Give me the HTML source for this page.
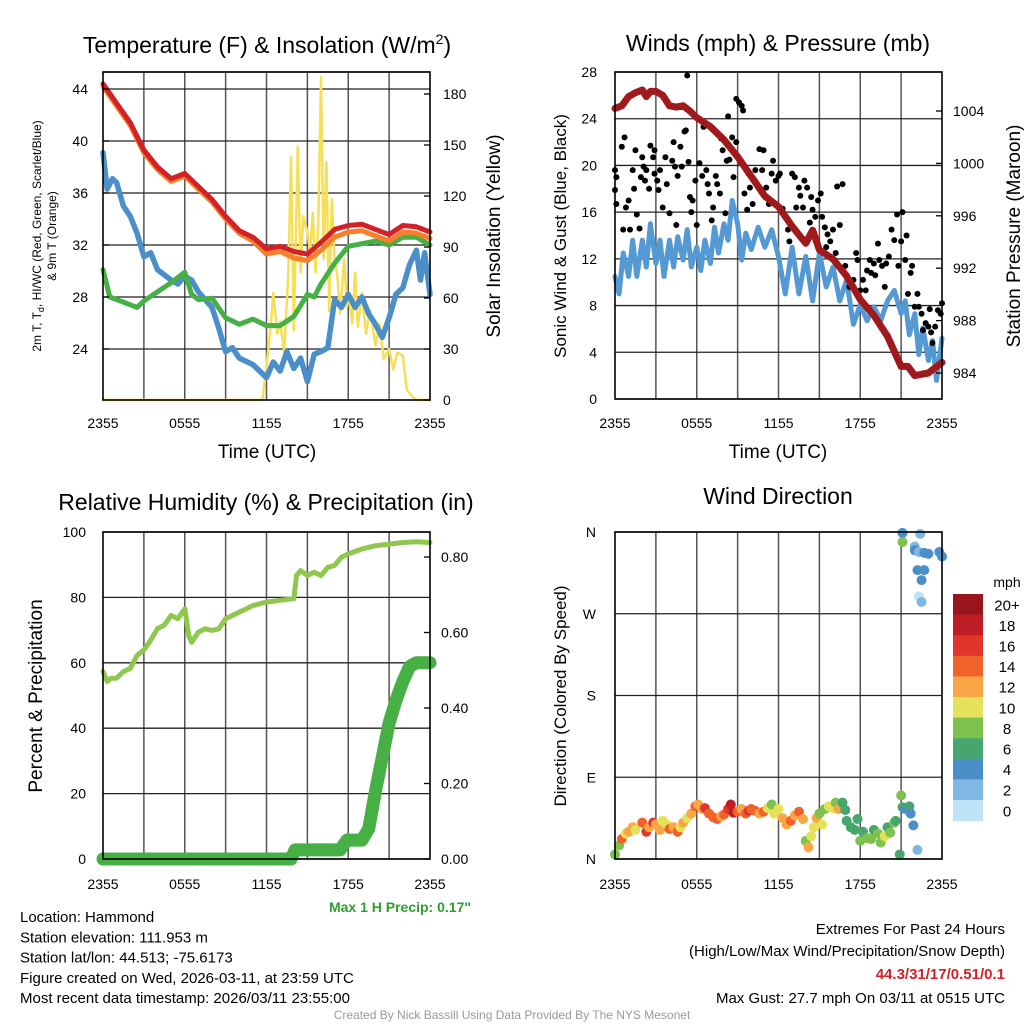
<!DOCTYPE html>
<html><head><meta charset="utf-8"><style>
html,body{margin:0;padding:0;background:#fff;}
svg{display:block;font-family:"Liberation Sans",Arial,sans-serif;}
</style></head><body>
<svg id="c" width="1024" height="1024" viewBox="0 0 1024 1024"></svg>
<script>
// ---------- DATA ----------
const xTickLabels=["2355","0555","1155","1755","2355"];
// Temperature panel
const tHours=[0,1,2,3,4,5,6,7,8,9,10,11,12,13,14,15,16,17,18,19,20,21,22,23,24];
const tempT=[44.4,42.9,41.4,39.3,38.0,37.1,37.5,36.5,35.5,34.2,33.1,32.6,31.7,31.9,31.5,31.3,32.2,33.2,33.5,33.6,33.2,32.8,33.5,33.4,33.0];
const tempWC=[44.2,42.7,41.2,39.1,37.8,36.9,37.3,36.3,35.3,34.0,32.9,32.3,31.3,31.5,31.0,30.8,31.6,32.6,33.0,33.1,32.7,32.3,33.0,32.9,32.5];
const tdHours=[0,0.5,1,2,2.5,3,4,5,6,6.5,7,8,9,10,11,12,13,14,15,15.5,16,17,18,19,20,21,22,23,24];
const tempTd=[30.1,28.0,27.8,27.4,27.2,27.7,28.4,29.1,29.9,28.2,27.8,27.9,26.4,25.9,26.3,25.8,25.8,26.5,28.2,28.0,29.0,30.6,31.9,32.1,32.3,32.0,32.6,32.6,32.0];
const blHours=[0,0.3,0.7,1,1.5,2,2.5,3,3.5,4,5,5.5,6,6.5,7,8,8.5,9,9.5,10,11,12,12.5,13,13.5,14,14.5,15,15.5,16,16.5,17,17.5,18,18.5,19,19.5,20,20.5,21,21.5,22,22.5,23,23.3,23.6,24];
const tempBlue=[39.1,36.3,37.1,36.8,35.0,34.2,32.9,31.1,31.4,30.1,29.3,29.0,29.6,29.3,28.4,27.2,25.6,23.8,24.1,23.3,22.8,21.8,23.0,22.3,23.8,22.5,23.3,21.5,23.6,23.8,24.1,27.8,27.2,28.2,27.2,28.0,26.7,25.9,24.9,26.4,28.2,28.7,30.5,31.6,29.3,31.4,28.2];
const solHours=[0,11.7,12,12.3,12.5,12.8,13,13.3,13.6,13.8,14,14.3,14.5,14.7,15,15.2,15.4,15.6,15.8,16,16.2,16.4,16.6,16.8,17,17.2,17.4,17.7,17.9,18,18.3,18.5,18.7,19,19.3,19.6,20,20.3,20.6,21,21.3,21.6,22,22.3,22.7,23,24];
const solar=[0,0,20,43,63,39,46,28,75,143,41,149,75,108,99,87,110,75,103,190,83,140,52,118,83,73,51,83,55,63,45,75,43,63,39,53,32,45,24,30,18,28,26,6,2,0,0];
const tempTicks=[24,28,32,36,40,44];
const solTicks=[0,30,60,90,120,150,180];
// Wind panel
const wHours=[0,0.3,0.6,1,1.3,1.6,2,2.3,2.6,3,3.3,3.6,4,4.3,4.6,5,5.3,5.6,6,6.3,6.6,7,7.3,7.6,8,8.3,8.6,9,9.3,9.6,10,10.5,11,11.5,12,12.5,13,13.5,14,14.5,15,15.5,16,16.5,17,17.5,18,18.5,19,19.5,20,20.5,21,21.3,21.6,22,22.3,22.6,23,23.3,23.6,24];
const windSpd=[10.5,9.0,12.5,10.5,13.6,10.5,13.6,11.3,15.0,11.6,13.6,10.5,13.6,11.3,13.9,11.9,14.5,11.3,13.0,11.0,13.6,11.6,14.7,12.5,15.0,13.6,17.0,15.0,11.9,14.2,12.8,14.7,13.0,14.5,12.2,9.0,13.0,9.0,12.2,8.4,12.5,9.6,11.3,8.4,10.2,6.4,8.1,6.7,7.9,6.7,8.4,9.3,7.3,8.4,5.5,7.3,3.8,6.1,3.3,5.0,1.6,5.2];
const pHours=[0,0.5,1,1.5,2,2.3,2.6,3,3.5,4,4.5,5,5.5,6,7,8,9,10,11,12,13,14,14.5,15,16,17,18,19,20,21,21.5,22,23,24];
const pressure=[1004.2,1004.4,1005.1,1005.4,1005.6,1005.1,1005.5,1005.5,1005.2,1004.4,1004.3,1004.4,1004.0,1003.5,1002.8,1001.8,1000.5,999.0,997.5,996.7,995.2,993.9,994.9,993.4,992.7,991.4,989.6,988.4,986.8,984.5,984.5,983.8,984.0,984.8];
const gustHours=[0,0.1,0,0.1,0.5,0.7,0.6,0.8,1.0,1.1,1.3,1.4,1.5,1.6,1.8,1.9,2.0,2.1,2.2,2.3,2.5,2.6,2.8,2.9,2.9,3.1,3.2,3.3,3.5,3.7,3.8,4.0,4.2,4.3,4.4,4.5,4.6,4.8,4.9,5.1,5.2,5.3,5.4,5.5,5.6,5.7,5.9,6.0,6.2,6.4,6.5,6.7,6.8,6.9,7.1,7.2,7.4,7.5,7.7,7.8,7.9,8.1,8.2,8.3,8.4,8.6,8.7,8.9,8.9,9.1,9.3,9.4,9.5,9.7,9.8,9.9,10.1,10.3,10.4,10.6,10.8,10.9,11.1,11.3,11.5,11.6,11.8,12.0,12.1,12.3,12.5,12.7,12.8,13.0,13.2,13.3,13.5,13.6,13.8,13.9,14.1,14.3,14.4,14.5,14.7,14.9,15.1,15.2,15.4,15.5,15.6,15.8,16.0,16.2,16.3,16.5,16.7,16.9,17.0,17.2,17.5,17.7,17.8,18.0,18.2,18.4,18.5,18.7,18.8,19.0,19.1,19.3,19.4,19.6,19.8,19.9,20.1,20.3,20.5,20.7,20.8,21.0,21.1,21.3,21.4,21.5,21.7,21.8,22.0,22.2,22.3,22.5,22.6,22.8,23.0,23.1,23.2,23.3,23.5,23.7,23.9,24.0];
const gustVals=[19.6,19.0,17.9,16.7,21.6,22.4,14.5,16.4,17.0,14.5,19.6,18.0,21.3,15.8,14.6,19.0,20.7,19.9,18.7,19.6,18.0,21.7,20.7,21.3,19.3,18.7,17.9,19.6,16.4,20.7,18.4,15.9,20.4,22.0,19.9,14.9,19.1,21.6,19.9,22.9,23.0,27.7,20.3,17.3,16.0,17.0,18.7,14.9,20.2,19.1,23.3,19.6,18.4,17.6,15.3,16.4,19.1,18.4,17.6,22.3,21.3,15.9,20.4,24.2,20.5,22.4,19.0,22.0,25.7,25.4,25.1,24.7,17.6,16.2,19.3,18.1,16.7,19.6,18.4,21.4,19.6,21.3,18.1,16.7,19.3,20.4,18.7,19.1,19.3,16.3,15.6,14.5,13.5,19.3,19.0,16.4,18.1,17.4,16.4,18.7,18.1,15.1,17.3,16.2,15.6,17.0,17.6,15.6,14.7,13.0,14.1,13.5,14.5,12.5,18.2,14.9,18.4,11.4,10.6,9.6,10.2,12.5,11.9,9.3,10.2,9.3,11.0,11.9,10.8,11.6,10.6,13.3,11.9,11.4,9.6,11.6,12.2,14.5,13.6,15.8,11.4,13.5,16.0,11.9,14.0,9.0,10.8,11.4,7.9,9.0,7.9,7.3,5.9,6.5,6.2,7.7,5.7,4.8,6.2,7.6,7.3,8.2];
const windTicks=[0,4,8,12,16,20,24,28];
const presTicks=[984,988,992,996,1000,1004];
// RH panel
const rhHours=[0,0.3,0.6,1,1.5,2,2.5,3,3.5,4,4.5,5,5.5,6,6.3,6.5,7,7.5,8,8.5,9,10,11,12,13,14,14.2,14.5,15,15.5,16,16.5,17,17.5,18,19,20,21,22,23,24];
const rh=[57.3,54.3,55.3,55.3,57.3,58.3,62.3,63.9,66.9,70.5,71.5,74.5,73.5,76.5,68.3,66.3,69.4,70.4,69.9,70.4,73.5,75.5,77.5,78.6,79.1,79.6,86.7,88.2,86.7,87.7,86.7,89.2,89.8,92.3,93.3,94.8,95.8,96.3,96.8,97.0,96.8];
const prHours=[0,13.8,14.1,17.4,17.9,19.0,19.5,20.0,20.5,21.0,21.5,22.0,22.5,23.0,24];
const precip=[0,0,0.024,0.024,0.05,0.05,0.08,0.18,0.27,0.36,0.42,0.47,0.51,0.52,0.52];
const rhTicks=[0,20,40,60,80,100];
const prTicks=[0,0.2,0.4,0.6,0.8];
// Direction panel
const dirHours=[0.0,0.3,0.5,0.8,1.0,1.3,1.5,2.0,2.3,2.5,2.8,3.0,3.3,3.5,3.8,4.0,4.3,4.6,4.8,5.0,5.3,5.6,5.9,6.1,6.4,6.6,6.9,7.2,7.5,7.8,8.0,8.3,8.5,8.7,9.0,9.3,9.6,9.8,10.0,10.3,10.6,10.9,11.2,11.5,11.7,12.0,12.3,12.6,12.9,13.2,13.5,13.8,14.0,14.2,14.4,14.6,14.8,15.0,15.2,15.4,15.7,16.0,16.2,16.4,16.7,16.9,17.0,17.3,17.6,17.8,18.0,18.2,18.5,18.8,19.0,19.3,19.5,19.8,20.0,20.2,20.5,20.6,20.9,21.0,21.1,21.3,21.6,21.7,21.9,22.2,21.1,21.1,22.4,22.0,22.0,22.3,22.7,23.0,22.2,22.7,22.5,22.3,22.5,23.8,24.0];
const dirDeg=[5,15,22,28,30,35,32,40,30,35,40,38,32,42,38,33,35,30,35,40,45,50,58,60,55,56,50,46,44,47,49,55,60,51,52,55,50,53,55,53,50,52,56,60,50,55,45,38,42,48,52,44,20,13,25,35,45,50,38,55,58,56,62,55,62,54,42,35,32,44,20,30,23,22,32,28,18,25,35,29,40,42,5,70,57,55,58,50,37,10,359,349,358,344,340,338,337,336,318,318,307,289,283,338,333];
const dirSpd=[8,8,14,10,12,12,10,14,16,12,16,12,12,10,10,14,12,14,10,12,10,12,14,12,12,16,14,14,14,12,14,16,18,18,14,12,14,16,14,14,12,14,10,8,10,10,12,12,14,12,14,12,8,12,10,10,12,8,10,8,10,10,8,12,6,6,6,6,6,6,8,6,8,8,6,8,8,10,6,8,8,6,6,8,6,4,6,4,4,2,4,8,2,2,4,2,4,4,4,4,4,0,2,4,4];
const cbLabels=["20+","18","16","14","12","10","8","6","4","2","0"];
const cbColors=["#98161b","#bf1e26","#e0352b","#f1622a","#f9a646","#e6e15a","#7dc24c","#46a66e","#4b8ec8","#7eb8e3","#bfe4f7"];

// ---------- HELPERS ----------
const NS="http://www.w3.org/2000/svg";
const svg=document.getElementById('c');
function el(tag,attrs,parent){const e=document.createElementNS(NS,tag);for(const k in attrs)e.setAttribute(k,attrs[k]);(parent||svg).appendChild(e);return e;}
function txt(s,x,y,size,anchor,parent,extra){const t=el('text',Object.assign({x:x,y:y,'font-size':size,'text-anchor':anchor||'start',fill:'#000'},extra||{}),parent);t.textContent=s;return t;}
function lin(d0,d1,r0,r1){return v=>r0+(v-d0)*(r1-r0)/(d1-d0);}
function path(xs,ys,fx,fy,color,w,parent){let d='';for(let i=0;i<xs.length;i++)d+=(i?'L':'M')+fx(xs[i]).toFixed(1)+','+fy(ys[i]).toFixed(1);return el('path',{d:d,fill:'none',stroke:color,'stroke-width':w,'stroke-linejoin':'round','stroke-linecap':'round'},parent);}

function panel(name,x0,x1,y0,y1,hLines){
  const g=el('g',{});
  
  
  const fx=lin(0,24,x0,x1);
  for(let h=3;h<24;h+=3){const l=el('line',{x1:fx(h),x2:fx(h),y1:y0,y2:y1,stroke:'#555','stroke-width':1.5},g);
    }
  hLines.forEach(y=>{const l=el('line',{x1:x0,x2:x1,y1:y,y2:y,stroke:'#222','stroke-width':1.3},g);
    });
  return {g:g,fx:fx};
}
function frame(x0,x1,y0,y1){const r=el('rect',{x:x0,y:y0,width:x1-x0,height:y1-y0,fill:'none',stroke:'#000','stroke-width':1.6});
  }
function xLabels(fx,y){xTickLabels.forEach((s,i)=>{const t=txt(s,fx(i*6),y,14,'middle');
  });}

// ---------- PANEL 1: Temperature ----------
(function(){
  const x0=103,x1=430,y0=72,y1=400;
  const fy=lin(24,44,349,89), fs=lin(0,180,400,94);
  const p=panel('temperature-panel',x0,x1,y0,y1,tempTicks.map(fy).concat([y0]));
  const fx=p.fx;
  const g=p.g;
  const a=path(solHours,solar,fx,fs,'#f7df55',2.5,g);
  const b=path(blHours,tempBlue,fx,fy,'#4a8fc9',5.5,g);
  const c=path(tdHours,tempTd,fx,fy,'#45b043',5,g);
  const d=path(tHours,tempWC,fx,fy,'#f57f2a',5,g);
  const e=path(tHours,tempT,fx,fy,'#d42027',5,g);
  frame(x0,x1,y0,y1);
  tempTicks.forEach(v=>{const t=txt(String(v),88,fy(v)+5,14,'end');
    el('line',{x1:x0,x2:x0+6,y1:fy(v),y2:fy(v),stroke:'#000','stroke-width':1.3});});
  solTicks.forEach(v=>{const t=txt(String(v),443,fs(v)+5,14,'start');
    el('line',{x1:x1-6,x2:x1,y1:fs(v),y2:fs(v),stroke:'#000','stroke-width':1.3});});
  xLabels(fx,428);
  let t=txt('Time (UTC)',267,458,19,'middle');
  t=el('text',{x:267,y:53,'font-size':23,'text-anchor':'middle'});t.innerHTML='Temperature (F) &amp; Insolation (W/m<tspan dy="-9" font-size="14">2</tspan><tspan dy="9">)</tspan>';
  
  t=el('text',{x:0,y:0,'font-size':12,'text-anchor':'middle',transform:'translate(41,236) rotate(-90)'});t.innerHTML='2m T, T<tspan dy="3" font-size="9">d</tspan><tspan dy="-3">, HI/WC (Red, Green, Scarlet/Blue)</tspan>';
  
  t=txt('& 9m T (Orange)',0,0,12,'middle',null,{transform:'translate(56,236) rotate(-90)'});
  t=txt('Solar Insolation (Yellow)',0,0,19,'middle',null,{transform:'translate(500,236) rotate(-90)'});
})();

// ---------- PANEL 2: Winds ----------
(function(){
  const x0=615,x1=942,y0=72,y1=399;
  const fy=lin(0,28,399,72), fp=lin(984,1004,373,111);
  const p=panel('winds-panel',x0,x1,y0,y1,windTicks.map(fy));
  const fx=p.fx,g=p.g;
  const a=path(wHours,windSpd,fx,fy,'#5499d3',5,g);
  gustHours.forEach((h,i)=>{const c=el('circle',{cx:fx(h),cy:fy(gustVals[i]),r:3,fill:'#000'},g);
    });
  const b=path(pHours,pressure,fx,fp,'#a0191d',7,g);
  frame(x0,x1,y0,y1);
  windTicks.forEach(v=>{const t=txt(String(v),597,fy(v)+5,14,'end');});
  presTicks.forEach(v=>{const t=txt(String(v),953,fp(v)+5,14,'start');
    el('line',{x1:x1-6,x2:x1,y1:fp(v),y2:fp(v),stroke:'#000','stroke-width':1.3});});
  xLabels(fx,428);
  let t=txt('Time (UTC)',778,458,19,'middle');
  t=txt('Winds (mph) & Pressure (mb)',778,51,23,'middle');
  t=txt('Sonic Wind & Gust (Blue, Black)',0,0,17,'middle',null,{transform:'translate(566,236) rotate(-90)'});
  t=txt('Station Pressure (Maroon)',0,0,19,'middle',null,{transform:'translate(1020,236) rotate(-90)'});
})();

// ---------- PANEL 3: RH ----------
(function(){
  const x0=103,x1=430,y0=532,y1=859;
  const fy=lin(0,100,859,532), fr=lin(0,0.8,859,557);
  const p=panel('humidity-panel',x0,x1,y0,y1,rhTicks.map(fy));
  const fx=p.fx,g=p.g;
  const a=path(rhHours,rh,fx,fy,'#8fc74f',5,g);
  const b=path(prHours,precip,fx,fr,'#46b045',13,g);
  frame(x0,x1,y0,y1);
  rhTicks.forEach(v=>{const t=txt(String(v),86,fy(v)+5,14,'end');});
  prTicks.forEach(v=>{const t=txt(v.toFixed(2),441,fr(v)+5,14,'start');
    el('line',{x1:x1-6,x2:x1,y1:fr(v),y2:fr(v),stroke:'#000','stroke-width':1.3});});
  xLabels(fx,889);
  let t=txt('Relative Humidity (%) & Precipitation (in)',266,510,23,'middle');
  t=txt('Percent & Precipitation',0,0,19,'middle',null,{transform:'translate(42,696) rotate(-90)'});
  t=txt('Max 1 H Precip: 0.17"',471,912,14,'end',null,{fill:'#2e9e2e','font-weight':'bold'});
})();

// ---------- PANEL 4: Wind direction ----------
(function(){
  const x0=615,x1=942,y0=532,y1=859;
  const fy=lin(0,360,859,532);
  const p=panel('wind-direction-panel',x0,x1,y0,y1,[0,90,180,270,360].map(fy));
  const fx=p.fx,g=p.g;
  function col(s){const i=Math.min(10,Math.floor(s/2));return cbColors[10-i];}
  dirHours.forEach((h,i)=>{const c=el('circle',{cx:fx(h),cy:fy(dirDeg[i]),r:5,fill:col(dirSpd[i])},g);
    });
  frame(x0,x1,y0,y1);
  ['N','E','S','W','N'].forEach((s,i)=>{const t=txt(s,596,fy(i*90)+5,14,'end');});
  xLabels(fx,889);
  let t=txt('Wind Direction',778,504,23,'middle');
  t=txt('Direction (Colored By Speed)',0,0,17,'middle',null,{transform:'translate(566,696) rotate(-90)'});
  const cg=el('g',{});
  const bh=20.6;
  cbColors.forEach((c,i)=>{const r=el('rect',{x:953,y:594+i*bh,width:30,height:bh+0.5,fill:c},cg);
    
    const tt=txt(cbLabels[i],1007,594+i*bh+bh/2+6,15,'middle',cg);});
  t=txt('mph',1007,587,14,'middle',cg);
})();

// ---------- TEXT BLOCKS ----------
const info=["Location: Hammond","Station elevation: 111.953 m","Station lat/lon: 44.513; -75.6173","Figure created on Wed, 2026-03-11, at 23:59 UTC","Most recent data timestamp: 2026/03/11 23:55:00"];
info.forEach((s,i)=>{const t=txt(s,20,922+i*20.3,15,'start');});
let t=txt('Extremes For Past 24 Hours',1005,934,15,'end');
t=txt('(High/Low/Max Wind/Precipitation/Snow Depth)',1005,956,15,'end');
t=txt('44.3/31/17/0.51/0.1',1005,979,15,'end',null,{fill:'#d42027','font-weight':'bold'});
t=txt('Max Gust: 27.7 mph On 03/11 at 0515 UTC',1005,1003,15,'end');
t=txt('Created By Nick Bassill Using Data Provided By The NYS Mesonet',512,1019,12,'middle',null,{fill:'#999'});
</script>
</body></html>
